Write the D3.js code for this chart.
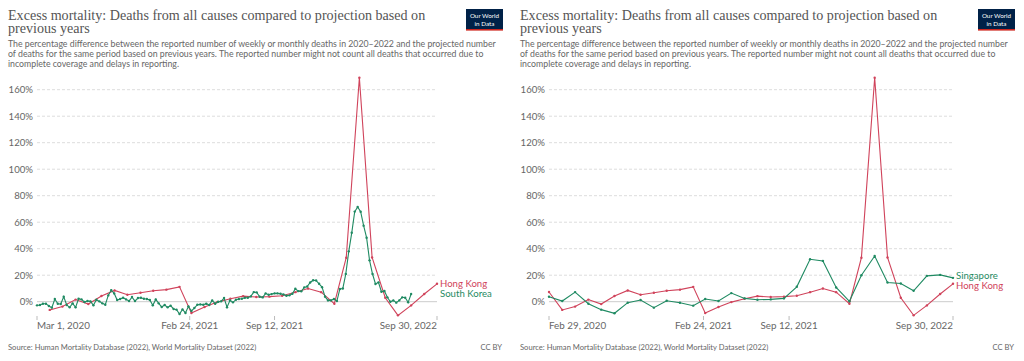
<!DOCTYPE html>
<html>
<head>
<meta charset="utf-8">
<title>Excess mortality</title>
<script src="https://d3js.org/d3.v7.min.js"></script>
<style>
  body { margin: 0; background: white; }
  svg { display: block; }
  text { font-family: Lato, "Liberation Sans", sans-serif; }
  .title { font-family: "Liberation Serif", "DejaVu Serif", serif; fill: #555; }
  .sub { fill: #666; }
  .tick-label { fill: #666; }
  .grid { stroke: #ddd; stroke-dasharray: 3,2; }
  .zero { stroke: #ccc; }
</style>
</head>
<body>
<svg id="chart" width="1024" height="361"></svg>
<script>
// monthly dates (month end) for Hong Kong and Singapore
const monthDates = [
  "2020-02-29","2020-03-31","2020-04-30","2020-05-31","2020-06-30","2020-07-31",
  "2020-08-31","2020-09-30","2020-10-31","2020-11-30","2020-12-31","2021-01-31",
  "2021-02-28","2021-03-31","2021-04-30","2021-05-31","2021-06-30","2021-07-31",
  "2021-08-31","2021-09-30","2021-10-31","2021-11-30","2021-12-31","2022-01-31",
  "2022-02-28","2022-03-31","2022-04-30","2022-05-31","2022-06-30","2022-07-31",
  "2022-08-31","2022-09-30"
];
const hongKong = [7.3, -6.2, -3.7, 1.6, -1.8, 4.3, 8.5, 5.3, 6.7, 8.3, 9.1, 11.2,
  -8.6, -4, -0.3, 2.2, 4.2, 3.5, 3.8, 4.5, 7.2, 10, 7.2, -1.5,
  33.2, 169, 33.4, 3, -10.3, -2.8, 5.8, 13.5];
const singapore = [3.75, 0.5, 7.25, -1.5, -6, -8.75, -0.75, 1.25, -4.5, 0.75, -0.75, -3,
  2, 0.5, 6.5, 2.5, 1.5, 1.75, 2.5, 11.25, 32, 30.8, 10.75, 0.3,
  20, 34.5, 14.5, 13.75, 8.25, 19.5, 20.25, 18];

// weekly South Korea, first week ending 2020-03-01
const koreaStart = "2020-03-01";
const southKorea = [
  -2.75, -2.5, -1.5, -1.5, -3.25, -4.5, 2, -1.5, -1.75, 3.75,
  -2.5, -4.25, -1.25, -4.25, 2.25, 1.75, -0.25, 0.5, 0.25, -2.75,
  1.5, 0.25, -1.25, -2.25, 4.75, 8.75, 6.25, 1.25, 2, 3,
  1.75, 0.5, 3.5, 0.5, 2.75, 3, 2.25, 2, 1.25, -2.75,
  1.75, -1.25, -4, -2.5, -4.25, -3, -5.5, -6, -9.3, -5.8,
  -8.5, -3.5, -7, -4.8, -2.3, -2, -2.3, -1.5, -2.5, 1,
  -1.5, 0, 0.25, 2.75, -4.2, 1, -0.5, 1.5, 2, 2.25,
  3, 3, 4, 7.25, 7, 3.75, 3.25, 6.25, 5.25, 5.75,
  6.25, 6.25, 6, 5.5, 4.5, 4.8, 6, 9.8, 8, 7.8,
  10.8, 11.5, 14.5, 16.2, 16, 13.5, 11, 3.8, 1, 1,
  2, 0.5, 9.6, 10, 21, 38, 52, 68, 71.5, 67.9,
  57.4, 48.3, 31.2, 20.9, 13.4, 14.6, 7.5, 8.1, 3.3, 0,
  1, -0.7, 1, 3.3, 3, -0.5, 5.8
];

const yTicks = [0, 20, 40, 60, 80, 100, 120, 140, 160];
const leftTicks = ["2020-03-01", "2021-02-24", "2021-09-12", "2022-09-30"];
const rightTicks = ["2020-02-29", "2021-02-24", "2021-09-12", "2022-09-30"];

const titleLines = ["Excess mortality: Deaths from all causes compared to projection based on", "previous years"];
const subLines = [
  "The percentage difference between the reported number of weekly or monthly deaths in 2020\u20132022 and the projected number",
  "of deaths for the same period based on previous years. The reported number might not count all deaths that occurred due to",
  "incomplete coverage and delays in reporting."
];
const sourceText = "Source: Human Mortality Database (2022), World Mortality Dataset (2022)";

const RED = "#d0435b", GREEN = "#1f8a62";
const parse = d3.timeParse("%Y-%m-%d");
const fmt = d3.timeFormat("%b %-d, %Y");

const koreaDates = southKorea.map((v, i) => d3.timeDay.offset(parse(koreaStart), 7 * i));

const svg = d3.select("#chart");

function drawPanel(ox, cfg) {
  const g = svg.append("g").attr("transform", `translate(${ox},0)`);

  // header
  g.append("text").attr("class", "title").attr("x", 8).attr("font-size", 14.1)
    .selectAll("tspan").data(titleLines).join("tspan")
    .attr("x", 8).attr("y", (d, i) => 20 + i * 12.8).text(d => d);
  g.append("text").attr("class", "sub").attr("font-size", 8.75)
    .selectAll("tspan").data(subLines).join("tspan")
    .attr("x", 8).attr("y", (d, i) => 46.5 + i * 10.4).text(d => d);

  // logo
  const logo = g.append("g").attr("transform", "translate(466,9)");
  logo.append("rect").attr("width", 37).attr("height", 20).attr("fill", "#002147");
  logo.append("rect").attr("y", 20).attr("width", 37).attr("height", 1.6).attr("fill", "#ce261e");
  logo.append("text").attr("x", 18.5).attr("y", 9).attr("text-anchor", "middle")
    .attr("font-size", 6.3).attr("fill", "white").text("Our World");
  logo.append("text").attr("x", 18.5).attr("y", 16.5).attr("text-anchor", "middle")
    .attr("font-size", 6.3).attr("fill", "white").text("in Data");

  const x = d3.scaleTime().domain(cfg.domain.map(parse)).range([cfg.left, cfg.right]);
  const y = d3.scaleLinear().domain([0, 160]).range([301.7, 89.7]);

  // grid
  g.selectAll(".grid").data(yTicks.filter(d => d !== 0)).join("line")
    .attr("class", "grid").attr("x1", cfg.left).attr("x2", cfg.right)
    .attr("y1", d => y(d)).attr("y2", d => y(d));
  g.append("line").attr("class", "zero").attr("x1", cfg.left).attr("x2", cfg.right)
    .attr("y1", y(0)).attr("y2", y(0));
  g.selectAll(".ylab").data(yTicks).join("text")
    .attr("class", "tick-label").attr("x", cfg.left - 4).attr("y", d => y(d))
    .attr("dy", "0.35em").attr("text-anchor", "end").attr("font-size", 9.6)
    .text(d => d + "%");

  // x axis
  const ticks = cfg.ticks.map(parse);
  g.selectAll(".xt").data(ticks).join("line")
    .attr("x1", d => x(d)).attr("x2", d => x(d)).attr("y1", 316).attr("y2", 320)
    .attr("stroke", "#bbb");
  g.selectAll(".xlab").data(ticks).join("text")
    .attr("class", "tick-label").attr("x", d => x(d)).attr("y", 329)
    .attr("font-size", 9.8)
    .attr("text-anchor", (d, i) => i === 0 ? "start" : i === ticks.length - 1 ? "end" : "middle")
    .text(d => fmt(d));

  // series
  const line = d3.line().x(d => x(d.date)).y(d => y(d.value));
  cfg.series.forEach(s => {
    const pts = s.dates.map((dt, i) => ({ date: dt, value: s.values[i] }))
      .filter(d => d.date >= x.domain()[0]);
    s.pts = pts;
    g.append("path").datum(pts).attr("d", line).attr("fill", "none")
      .attr("stroke", s.color).attr("stroke-width", 1.1);
    g.append("g").selectAll("circle").data(pts).join("circle")
      .attr("cx", d => x(d.date)).attr("cy", d => y(d.value)).attr("r", 1.2)
      .attr("fill", s.color);
  });

  // end labels, nudged apart
  const labs = cfg.series.map(s => ({ name: s.name, color: s.color, y: y(s.pts[s.pts.length - 1].value) }))
    .sort((a, b) => a.y - b.y);
  for (let i = 1; i < labs.length; i++) {
    if (labs[i].y - labs[i - 1].y < 10) {
      const mid = (labs[i].y + labs[i - 1].y) / 2;
      labs[i - 1].y = mid - 5; labs[i].y = mid + 5;
    }
  }
  g.selectAll(".slab").data(labs).join("text")
    .attr("x", cfg.right + 3).attr("y", d => d.y).attr("dy", "0.35em")
    .attr("font-size", 9.6).attr("fill", d => d.color).text(d => d.name);

  // footer
  g.append("text").attr("class", "sub").attr("x", 8).attr("y", 350)
    .attr("font-size", 7.6).attr("fill", "#777").text(sourceText);
  g.append("text").attr("class", "sub").attr("x", 502).attr("y", 350)
    .attr("text-anchor", "end").attr("font-size", 7.6).text("CC BY");
}

drawPanel(0, {
  left: 37, right: 437,
  domain: ["2020-03-01", "2022-09-30"],
  ticks: leftTicks,
  series: [
    { name: "Hong Kong", dates: monthDates.map(parse), values: hongKong, color: RED },
    { name: "South Korea", dates: koreaDates, values: southKorea, color: GREEN }
  ]
});

drawPanel(512, {
  left: 37, right: 441,
  domain: ["2020-02-29", "2022-09-30"],
  ticks: rightTicks,
  series: [
    { name: "Hong Kong", dates: monthDates.map(parse), values: hongKong, color: RED },
    { name: "Singapore", dates: monthDates.map(parse), values: singapore, color: GREEN }
  ]
});
</script>
</body>
</html>
